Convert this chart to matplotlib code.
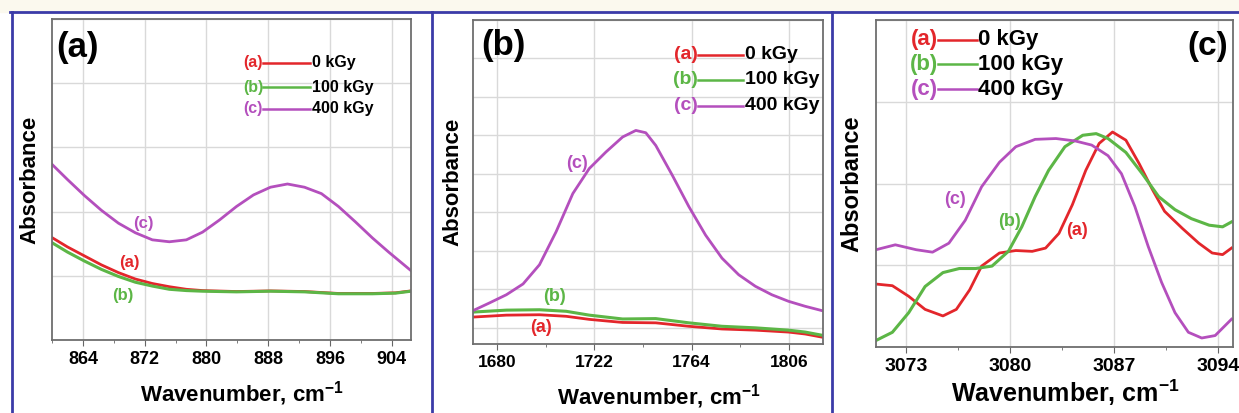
import matplotlib
matplotlib.use("Agg")
import matplotlib.pyplot as plt
from matplotlib.lines import Line2D
from matplotlib.patches import Rectangle
from matplotlib.ticker import MultipleLocator

plt.rcParams["font.family"] = ["Liberation Sans", "DejaVu Sans"]
plt.rcParams["font.weight"] = "bold"
plt.rcParams["mathtext.fontset"] = "custom"
plt.rcParams["mathtext.rm"] = "Liberation Sans"
plt.rcParams["mathtext.bf"] = "Liberation Sans:bold"

RED = "#e3262b"
GREEN = "#5cb646"
PURPLE = "#b44fbd"

doses = ["0 kGy", "100 kGy", "400 kGy"]
tags = ["(a)", "(b)", "(c)"]

# panel (a): 860-906.5 cm-1
a_x_red = [859.8, 862.0, 864.2, 866.4, 868.6, 870.8, 873.0, 875.2, 877.4, 879.5,
           883.9, 888.3, 892.7, 897.1, 901.5, 904.5, 906.5]
a_y_red = [1.61, 1.45, 1.31, 1.17, 1.05, 0.95, 0.88, 0.83, 0.79, 0.77,
           0.755, 0.765, 0.755, 0.725, 0.725, 0.735, 0.765]
a_x_green = [859.8, 862.0, 864.2, 866.4, 868.6, 870.8, 873.0, 875.2, 877.4, 879.5,
             883.9, 888.3, 892.7, 897.1, 901.5, 904.5, 906.5]
a_y_green = [1.53, 1.37, 1.23, 1.10, 0.99, 0.90, 0.84, 0.79, 0.77, 0.76,
             0.75, 0.76, 0.75, 0.72, 0.72, 0.73, 0.76]
a_x_purple = [859.8, 862.0, 864.2, 866.4, 868.6, 870.8, 873.0, 875.2, 877.4, 879.5,
              881.7, 883.9, 886.1, 888.3, 890.5, 892.7, 894.9, 897.1, 899.3, 901.5,
              903.6, 905.8, 906.5]
a_y_purple = [2.76, 2.50, 2.25, 2.02, 1.82, 1.67, 1.56, 1.53, 1.56, 1.68,
              1.87, 2.08, 2.26, 2.38, 2.43, 2.38, 2.28, 2.08, 1.84, 1.59,
              1.37, 1.15, 1.08]

# panel (b): 1670-1821 cm-1
b_x_red = [1669.7, 1684.0, 1698.3, 1709.8, 1719.8, 1734.2, 1748.5, 1762.8, 1777.1,
           1791.5, 1805.8, 1813.0, 1820.1]
b_y_red = [0.28, 0.33, 0.34, 0.30, 0.22, 0.14, 0.13, 0.04, -0.03,
           -0.06, -0.11, -0.16, -0.24]
b_x_green = [1669.7, 1684.0, 1698.3, 1709.8, 1719.8, 1734.2, 1748.5, 1762.8, 1777.1,
             1791.5, 1805.8, 1813.0, 1820.1]
b_y_green = [0.41, 0.46, 0.47, 0.43, 0.33, 0.23, 0.24, 0.13, 0.04,
             0.0, -0.06, -0.11, -0.19]
b_x_purple = [1669.7, 1676.8, 1684.0, 1691.2, 1698.3, 1705.5, 1712.7, 1719.8, 1727.0,
              1734.2, 1739.9, 1744.2, 1748.5, 1755.6, 1762.8, 1770.0, 1777.1, 1784.3,
              1791.5, 1798.6, 1805.8, 1813.0, 1820.1]
b_y_purple = [0.45, 0.65, 0.86, 1.14, 1.64, 2.50, 3.49, 4.14, 4.57,
              4.96, 5.13, 5.07, 4.74, 3.97, 3.15, 2.41, 1.81, 1.38,
              1.08, 0.86, 0.69, 0.56, 0.45]

# panel (c): 3071-3095 cm-1
c_x_red = [3071.0, 3072.1, 3073.2, 3074.3, 3075.5, 3076.4, 3077.3, 3078.1, 3079.3,
           3080.4, 3081.5, 3082.4, 3083.3, 3084.2, 3085.1, 3086.0, 3086.9, 3087.8,
           3088.7, 3089.6, 3090.4, 3091.6, 3092.7, 3093.6, 3094.3, 3094.9]
c_y_red = [0.77, 0.75, 0.62, 0.46, 0.38, 0.46, 0.70, 0.99, 1.15,
           1.18, 1.17, 1.21, 1.39, 1.74, 2.16, 2.49, 2.63, 2.53,
           2.24, 1.92, 1.66, 1.45, 1.27, 1.15, 1.13, 1.21]
c_x_green = [3071.0, 3072.1, 3073.2, 3074.3, 3075.5, 3076.6, 3077.7, 3078.8, 3079.9,
             3080.8, 3081.7, 3082.6, 3083.7, 3084.9, 3085.8, 3086.6, 3087.8, 3088.9,
             3090.0, 3091.1, 3092.2, 3093.4, 3094.3, 3094.9]
c_y_green = [0.08, 0.18, 0.42, 0.74, 0.91, 0.96, 0.96, 0.99, 1.17,
             1.47, 1.84, 2.16, 2.45, 2.59, 2.61, 2.55, 2.38, 2.12,
             1.84, 1.68, 1.57, 1.49, 1.47, 1.53]
c_x_purple = [3071.0, 3072.3, 3073.7, 3074.8, 3075.9, 3077.0, 3078.1, 3079.3, 3080.4,
              3081.7, 3083.1, 3084.4, 3085.5, 3086.6, 3087.5, 3088.4, 3089.3, 3090.2,
              3091.1, 3092.0, 3092.9, 3093.8, 3094.9]
c_y_purple = [1.19, 1.25, 1.19, 1.16, 1.27, 1.55, 1.96, 2.26, 2.45,
              2.54, 2.55, 2.52, 2.47, 2.34, 2.12, 1.72, 1.23, 0.79,
              0.42, 0.18, 0.11, 0.14, 0.34]

W, H = 1239, 413
fig = plt.figure(figsize=(W / 100, H / 100), dpi=100)
fig.patch.set_facecolor("white")

# cream strip and blue panel frames
fig.add_artist(Rectangle((0, 1 - 12 / H), 1, 12 / H, transform=fig.transFigure,
                         color="#fbf9ee", zorder=0))
fig.add_artist(Line2D([10 / W, 1], [1 - 12 / H, 1 - 12 / H], color="#3b3ba8", lw=2))
for xp in [12, 432, 832]:
    fig.add_artist(Line2D([xp / W, xp / W], [0, 1 - 12 / H], color="#3b3ba8", lw=2))


def setup(ax, xlim, ylim, major, minor, fs_tick, fs_lab, ylab_x, xlab_y):
    ax.set_xlim(*xlim)
    ax.set_ylim(*ylim)
    ax.xaxis.set_major_locator(MultipleLocator(major))
    ax.xaxis.set_minor_locator(MultipleLocator(minor))
    ax.yaxis.set_major_locator(MultipleLocator(1))
    ax.grid(True, which="major", color="#d9d9d9", lw=1)
    ax.set_axisbelow(True)
    ax.tick_params(axis="y", left=False, labelleft=False)
    ax.tick_params(axis="x", which="major", direction="out", length=4,
                   color="#666666", labelsize=fs_tick, pad=4)
    ax.tick_params(axis="x", which="minor", direction="out", length=2.5,
                   color="#666666")
    for s in ax.spines.values():
        s.set_color("#6e6e6e")
        s.set_linewidth(1.3)
    ax.set_ylabel("Absorbance", fontsize=fs_lab, fontweight="bold")
    ax.yaxis.set_label_coords(ylab_x, 0.5)
    ax.set_xlabel(r"Wavenumber, cm$^{\mathbf{-1}}$", fontsize=fs_lab, fontweight="bold")
    ax.xaxis.set_label_coords(0.53, xlab_y)


def legend(ax, x0, x1, ys, fs, lw=1.8):
    cols = [RED, GREEN, PURPLE]
    for tag, dose, c, y in zip(tags, doses, cols, ys):
        ax.text(x0, y, tag, color=c, fontsize=fs, ha="right", va="center",
                transform=ax.transAxes, fontweight="bold")
        ax.plot([x0, x1], [y, y], color=c, lw=lw, transform=ax.transAxes)
        ax.text(x1 + 0.005, y, dose, color="black", fontsize=fs, ha="left",
                va="center", transform=ax.transAxes, fontweight="bold")


# ---- panel (a)
ax1 = fig.add_axes([52 / W, 73 / H, 359 / W, 321 / H])
ax1.plot(a_x_red, a_y_red, color=RED, lw=2)
ax1.plot(a_x_green, a_y_green, color=GREEN, lw=2.2)
ax1.plot(a_x_purple, a_y_purple, color=PURPLE, lw=2)
setup(ax1, (860, 906.5), (0, 5), 8, 4, 13, 16, -0.033, -0.122)
ax1.text(871.8, 1.81, "(c)", color=PURPLE, fontsize=12, ha="center", va="center")
ax1.text(870, 1.21, "(a)", color=RED, fontsize=12, ha="center", va="center")
ax1.text(869.2, 0.70, "(b)", color=GREEN, fontsize=12, ha="center", va="center")
ax1.text(0.012, 0.91, "(a)", fontsize=25, fontweight="bold", ha="left",
         va="center", transform=ax1.transAxes)
legend(ax1, 0.588, 0.719, [0.863, 0.788, 0.72], 11.5)

# ---- panel (b)
ax2 = fig.add_axes([473 / W, 69 / H, 350 / W, 324 / H])
ax2.plot(b_x_red, b_y_red, color=RED, lw=2)
ax2.plot(b_x_green, b_y_green, color=GREEN, lw=2.2)
ax2.plot(b_x_purple, b_y_purple, color=PURPLE, lw=2)
setup(ax2, (1669.6, 1820.7), (-0.42, 8), 42, 21, 12.5, 16, -0.026, -0.118)
ax2.text(1714.5, 4.28, "(c)", color=PURPLE, fontsize=13, ha="center", va="center")
ax2.text(1705, 0.81, "(b)", color=GREEN, fontsize=13, ha="center", va="center")
ax2.text(1699, 0.02, "(a)", color=RED, fontsize=13, ha="center", va="center")
ax2.text(0.024, 0.92, "(b)", fontsize=25, fontweight="bold", ha="left",
         va="center", transform=ax2.transAxes)
legend(ax2, 0.643, 0.771, [0.892, 0.815, 0.735], 14)

# ---- panel (c)
ax3 = fig.add_axes([876 / W, 66 / H, 357 / W, 327 / H])
ax3.plot(c_x_red, c_y_red, color=RED, lw=2)
ax3.plot(c_x_green, c_y_green, color=GREEN, lw=2.2)
ax3.plot(c_x_purple, c_y_purple, color=PURPLE, lw=2)
setup(ax3, (3071, 3095), (0, 4), 7, 3.5, 14, 17, -0.034, -0.095)
ax3.xaxis.label.set_fontsize(18)
ax3.text(3076.3, 1.80, "(c)", color=PURPLE, fontsize=13, ha="center", va="center")
ax3.text(3080, 1.53, "(b)", color=GREEN, fontsize=13, ha="center", va="center")
ax3.text(3084.5, 1.42, "(a)", color=RED, fontsize=13, ha="center", va="center")
ax3.text(0.986, 0.918, "(c)", fontsize=24, fontweight="bold", ha="right",
         va="center", transform=ax3.transAxes)
legend(ax3, 0.175, 0.282, [0.939, 0.865, 0.788], 16)

fig.savefig("out.png", dpi=100)
